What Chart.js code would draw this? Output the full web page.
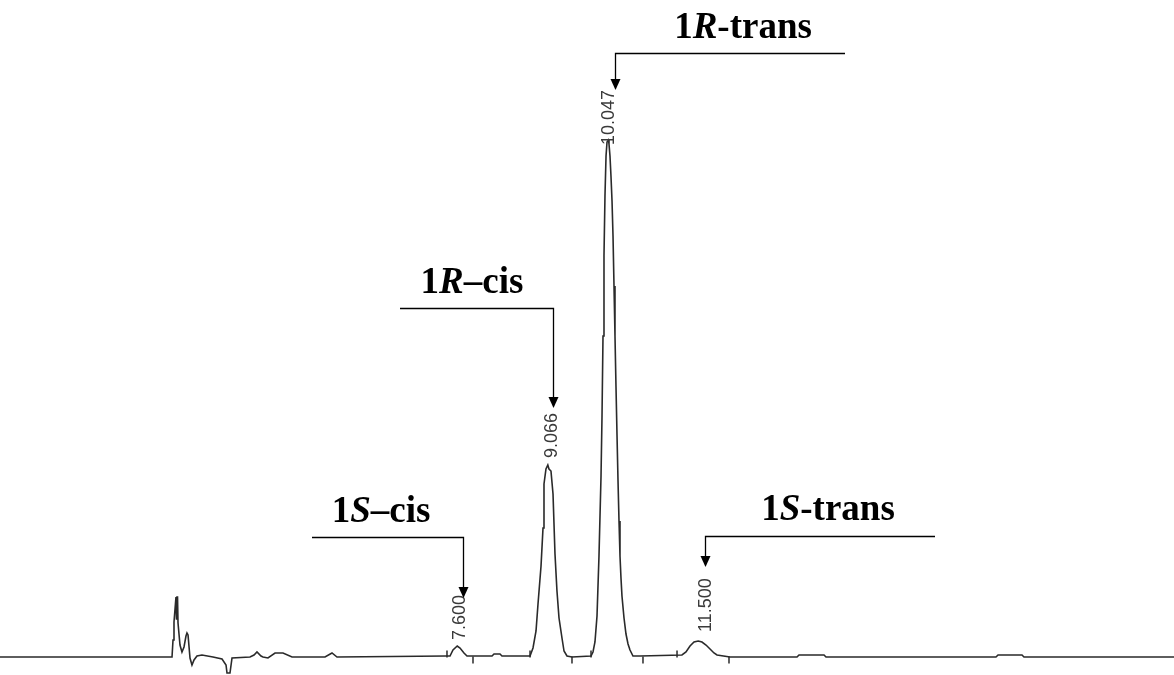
<!DOCTYPE html>
<html>
<head>
<meta charset="utf-8">
<title>Chiral HPLC chromatogram</title>
<script src="https://cdn.jsdelivr.net/npm/chart.js@4.4.1/dist/chart.umd.min.js"></script>
<style>
  html, body { margin: 0; padding: 0; background: #fff; }
  #wrap { width: 1174px; height: 675px; }
</style>
</head>
<body>
<div id="wrap"><canvas id="chromatogram"></canvas></div>
<script>
// Detector trace: retention time (min) and signal (arbitrary units)
const retentionTimes = [
  0.200, 2.984, 3.000, 3.016, 3.048, 3.056, 3.064, 3.073, 3.081, 3.113, 3.145,
  3.178, 3.210, 3.226, 3.243, 3.275, 3.307, 3.340, 3.388, 3.469, 3.647,
  3.793, 3.858, 3.874, 3.922, 3.955, 4.246, 4.311, 4.359, 4.424, 4.456,
  4.537, 4.651, 4.780, 4.926, 5.460, 5.573, 5.654, 7.418, 7.483, 7.531,
  7.600, 7.645, 7.709, 7.758, 8.163, 8.195, 8.292, 8.324, 8.778, 8.826,
  8.875, 8.907, 8.956, 8.988, 9.004, 9.036, 9.066, 9.085, 9.117, 9.150,
  9.182, 9.214, 9.247, 9.295, 9.328, 9.376, 9.457, 9.765, 9.797, 9.829,
  9.862, 9.894, 9.927, 9.943, 9.959, 9.975, 9.991, 10.008, 10.024, 10.047,
  10.056, 10.072, 10.088, 10.105, 10.121, 10.137, 10.153, 10.169, 10.186, 10.202,
  10.218, 10.234, 10.250, 10.266, 10.299, 10.331, 10.364, 10.396, 10.444, 10.558,
  11.237, 11.302, 11.367, 11.432, 11.500, 11.561, 11.626, 11.691, 11.755, 11.804,
  12.014, 13.099, 13.131, 13.536, 13.568, 16.319, 16.352, 16.740, 16.772, 19.200
];
const signalValues = [
  0, 0, 17, 35, 60, 38, 60, 60, 34, 12, 5,
  10, 21, 24, 22, -1, -8, -3, 1, 2, 0,
  -2, -8, -16, -16, -1, 0, 2, 5, 1, 0,
  -1, 4, 4, 0, 0, 4, 0, 1, 1, 7,
  11, 9, 4, 1, 1, 3, 3, 1, 1, 9,
  26, 53, 91, 129, 173, 188, 192, 188, 186, 163,
  103, 66, 39, 19, 6, 1, 0, 1, 5, 15,
  41, 101, 181, 241, 321, 401, 461, 501, 515, 517,
  513, 501, 481, 456, 421, 371, 321, 271, 221, 176,
  136, 101, 79, 61, 39, 23, 13, 7, 1, 1,
  2, 5, 11, 15, 16, 15, 12, 8, 4, 2,
  0, 0, 2, 2, 0, 0, 2, 2, 0, 0
];

// Integration markers drawn on the baseline
const markerTimes = [7.434, 7.855, 8.778, 9.457, 9.765, 10.606, 11.157, 11.998];
const markerLevels = [3, -3, 3, -3, 3, -3, 3, -3];

// Peak retention-time labels
const peakLabels = ['7.600', '9.066', '10.047', '11.500'];
const peakLabelTimes = [7.645, 9.134, 10.056, 11.626];
const peakLabelSignals = [17, 199, 512, 25];

// Isomer names: [plain prefix, italic descriptor, plain suffix]
const isomerNames = [
  ['1', 'S', '–cis'],
  ['1', 'R', '–cis'],
  ['1', 'R', '-trans'],
  ['1', 'S', '-trans']
];

// Leader lines (data units): label centre/baseline, arrow x, bend level, free end, tip level
const callouts = [
  { labelX: 6.366, labelY: 135, arrowX: 7.693, lineY: 120, endX: 5.249, tipY: 59 },
  { labelX: 7.839, labelY: 364, arrowX: 9.150, lineY: 349, endX: 6.674, tipY: 249 },
  { labelX: 12.225, labelY: 619, arrowX: 10.153, lineY: 604, endX: 13.875, tipY: 567 },
  { labelX: 13.600, labelY: 137, arrowX: 11.610, lineY: 121, endX: 15.332, tipY: 90 }
];

/**
 * Draw an isomer name with the stereo descriptor in italic
 */
function drawIsomerName(ctx, parts, cx, baseline) {
  const size = 37;
  const fonts = [
    `bold ${size}px "Liberation Serif", "Times New Roman", serif`,
    `italic bold ${size}px "Liberation Serif", "Times New Roman", serif`,
    `bold ${size}px "Liberation Serif", "Times New Roman", serif`
  ];
  let total = 0;
  const widths = parts.map((p, i) => {
    ctx.font = fonts[i];
    const w = ctx.measureText(p).width;
    total += w;
    return w;
  });
  let x = cx - total / 2;
  ctx.textAlign = 'left';
  ctx.textBaseline = 'alphabetic';
  ctx.fillStyle = '#000';
  parts.forEach((p, i) => {
    ctx.font = fonts[i];
    ctx.fillText(p, x, baseline);
    x += widths[i];
  });
}

// Annotation plugin: peak labels, names and arrows
const annotationPlugin = {
  id: 'chromAnnotations',
  afterDatasetsDraw(chart) {
    const ctx = chart.ctx;
    const xs = chart.scales.x;
    const ys = chart.scales.y;
    ctx.save();

    // Rotated retention times
    ctx.font = '18px "Liberation Sans", Arial, sans-serif';
    ctx.fillStyle = '#3a3a3a';
    ctx.textAlign = 'left';
    ctx.textBaseline = 'middle';
    peakLabels.forEach((label, i) => {
      ctx.save();
      ctx.translate(xs.getPixelForValue(peakLabelTimes[i]), ys.getPixelForValue(peakLabelSignals[i]));
      ctx.rotate(-Math.PI / 2);
      ctx.fillText(label, 0, 0);
      ctx.restore();
    });

    // Callouts
    callouts.forEach((c, i) => {
      const ax = Math.round(xs.getPixelForValue(c.arrowX)) + 0.5;
      const ly = Math.round(ys.getPixelForValue(c.lineY)) + 0.5;
      const ex = xs.getPixelForValue(c.endX);
      const ty = ys.getPixelForValue(c.tipY);

      ctx.strokeStyle = '#000';
      ctx.lineWidth = 1.3;
      ctx.beginPath();
      ctx.moveTo(ex, ly);
      ctx.lineTo(ax, ly);
      ctx.lineTo(ax, ty - 8);
      ctx.stroke();

      ctx.fillStyle = '#000';
      ctx.beginPath();
      ctx.moveTo(ax - 5, ty - 11);
      ctx.lineTo(ax + 5, ty - 11);
      ctx.lineTo(ax, ty);
      ctx.closePath();
      ctx.fill();

      drawIsomerName(ctx, isomerNames[i], xs.getPixelForValue(c.labelX), ys.getPixelForValue(c.labelY));
    });

    ctx.restore();
  }
};

/**
 * Build the chromatogram chart
 */
function initChromatogram() {
  const trace = retentionTimes.map((t, i) => ({ x: t, y: signalValues[i] }));
  const markers = markerTimes.map((t, i) => ({ x: t, y: markerLevels[i] }));

  new Chart(document.getElementById('chromatogram'), {
    type: 'line',
    data: {
      datasets: [
        {
          data: trace,
          borderColor: '#2a2a2a',
          borderWidth: 1.6,
          pointRadius: 0,
          tension: 0,
          fill: false,
        },
        {
          data: markers,
          showLine: false,
          pointStyle: 'line',
          pointRotation: 90,
          pointRadius: 3.5,
          borderColor: '#2a2a2a',
          borderWidth: 1.5,
        },
      ],
    },
    options: {
      responsive: true,
      maintainAspectRatio: false,
      animation: false,
      layout: { padding: 0, autoPadding: false },
      plugins: {
        legend: { display: false },
        tooltip: { enabled: false },
      },
      scales: {
        x: { type: 'linear', min: 0.2, max: 19.2, display: false },
        y: { min: -18, max: 657, display: false },
      },
    },
    plugins: [annotationPlugin],
  });
}

initChromatogram();
</script>
</body>
</html>
